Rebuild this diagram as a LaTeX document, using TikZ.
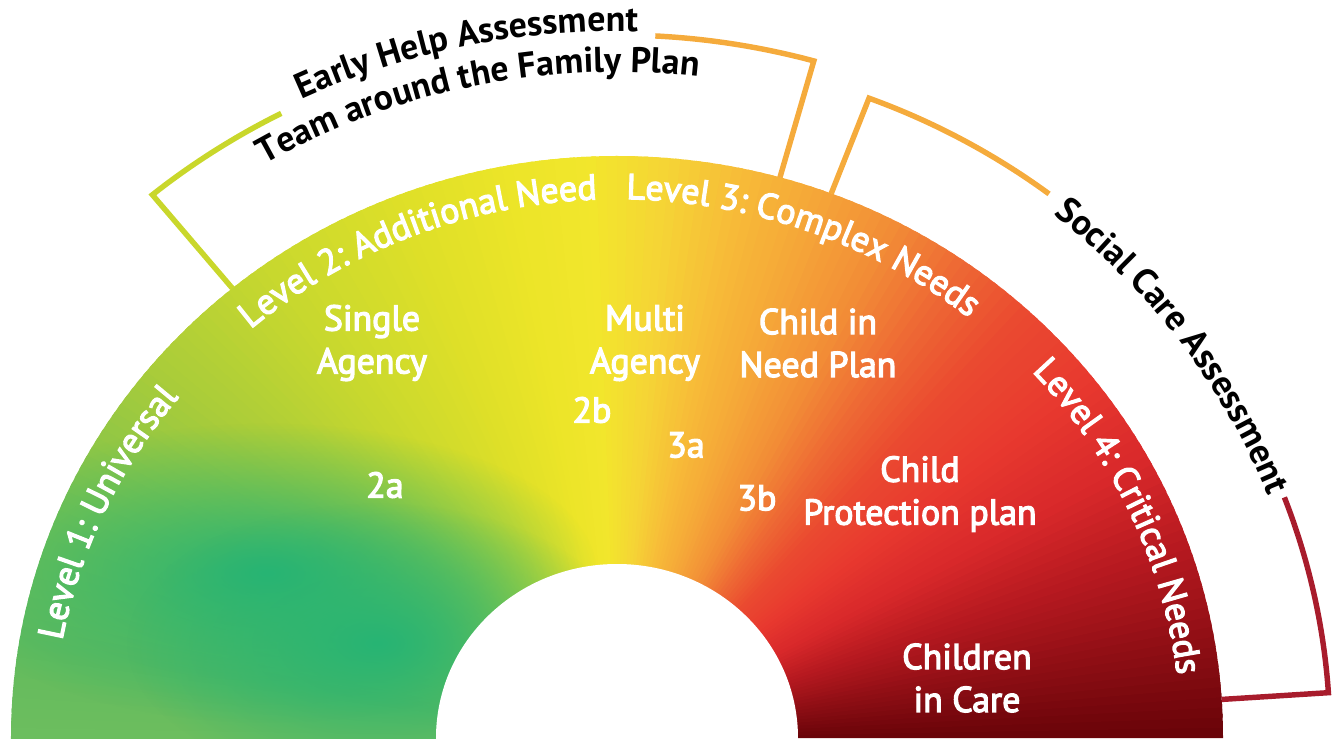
\documentclass[tikz,border=0pt]{standalone}
\usepackage{fontspec}
\setmainfont{PT Sans}
\usetikzlibrary{decorations.text,fadings}

% colour stops round the half ring, from the right (0) to the left (180)
\definecolor{st0}{HTML}{6A0409}
\definecolor{st1}{HTML}{8A0D13}
\definecolor{st2}{HTML}{B3181F}
\definecolor{st3}{HTML}{D8282A}
\definecolor{st4}{HTML}{E8392F}
\definecolor{st5}{HTML}{EA4A30}
\definecolor{st6}{HTML}{EE6A34}
\definecolor{st7}{HTML}{F28C36}
\definecolor{st8}{HTML}{F5A638}
\definecolor{st9}{HTML}{F7BD38}
\definecolor{st10}{HTML}{F5D535}
\definecolor{st11}{HTML}{F2E62C}
\definecolor{st12}{HTML}{ECE528}
\definecolor{st13}{HTML}{DFE028}
\definecolor{st14}{HTML}{C8D82E}
\definecolor{st15}{HTML}{A9CC3A}
\definecolor{st16}{HTML}{7FC34D}
\definecolor{st17}{HTML}{62BB5C}
\definecolor{st18}{HTML}{6DBE5F}
\definecolor{blobgreen}{HTML}{27B474}
\definecolor{ehgreen}{HTML}{C9D72B}
\definecolor{amber}{HTML}{F5AB3C}
\definecolor{crimson}{HTML}{A81C2C}

\tikzfading[name=blobfade, inner color=transparent!0, outer color=transparent!100]

% white labels are set a little heavier: fill and stroke the glyphs
\newcommand\thicken{\special{pdf:literal direct 2 Tr 0.35 w}}
\newcommand\lvlfont{\fontsize{10.2}{12.2}\selectfont\thicken}
\newcommand\outfont{\fontsize{10.2}{12.2}\selectfont\bfseries}

\begin{document}
\begin{tikzpicture}[x=0.1mm, y=0.1mm,
  lvl/.style={font=\lvlfont, text=white, align=center, inner sep=0pt},
  bracket/.style={line width=1.55pt},
]
\useasboundingbox (-617,0) rectangle (721,738);

% the coloured half ring
\begin{scope}
\clip (0,0) ellipse (606 and 582);
\foreach \a/\b/\ca/\cb in {0/8/st0/st1, 8/18/st1/st2, 18/28/st2/st3, 28/38/st3/st4,
    38/47/st4/st5, 47/55/st5/st6, 55/62/st6/st7, 62/70/st7/st8, 70/78/st8/st9,
    78/85/st9/st10, 85/92/st10/st11, 92/100/st11/st12, 100/110/st12/st13,
    110/125/st13/st14, 125/140/st14/st15, 140/155/st15/st16, 155/170/st16/st17,
    170/180/st17/st18}{
  \pgfmathtruncatemacro\e{\b-1}
  \foreach \t in {\a,...,\e}{
    \pgfmathsetmacro\p{100*(\t-\a)/(\b-\a)}
    \fill[\cb!\p!\ca] (0,0) -- ({\t}:620 and 596) -- ({\t+1.5}:620 and 596) -- cycle;
  }
}
\fill[blobgreen, path fading=blobfade] (-350,165) ellipse (330 and 150);
\fill[blobgreen, path fading=blobfade] (-240,95) ellipse (250 and 140);
\end{scope}
\fill[white] (0,0) ellipse (181 and 174);

% level names round the rim
\path[decorate, decoration={text along path, text align=center,
  text={|\lvlfont\color{white}|Level 1: Universal}}]
  (187:564 and 541) arc[start angle=187, end angle=124, x radius=564, y radius=541];
\path[decorate, decoration={text along path, text align=center,
  text={|\lvlfont\color{white}|Level 2: Additional Need}}]
  (143:562 and 539) arc[start angle=143, end angle=80, x radius=562, y radius=539];
\path[decorate, decoration={text along path, text align=center,
  text={|\lvlfont\color{white}|Level 3: Complex Needs}}]
  (102:562 and 539) arc[start angle=102, end angle=38, x radius=562, y radius=539];
\path[decorate, decoration={text along path, text align=center,
  text={|\lvlfont\color{white}|Level 4: Critical Needs}}]
  (56:564 and 541) arc[start angle=56, end angle=-7, x radius=564, y radius=541];

% labels inside the ring
\node[lvl] (single) at (-245,395) {Single\\Agency};
\node[lvl] (multi) at (28,395) {Multi\\Agency};
\node[lvl] (cin) at (201,395) {Child in\\Need Plan};
\node[lvl] (l2a) at (-232,253) {2a};
\node[lvl] (l2b) at (-25,328) {2b};
\node[lvl] (l3a) at (69,293) {3a};
\node[lvl] (l3b) at (140,240) {3b};
\node[lvl] (cpp) at (303,244) {Child\\Protection plan};
\node[lvl] (cic) at (350,60) {Children\\in Care};

% assessment brackets
\coordinate (ehA) at (129.4:606 and 582);
\coordinate (ehB) at (129.4:732 and 703);
\coordinate (ehC) at (87:732 and 703);
\coordinate (ehD) at (74.4:606 and 582);
\draw[bracket, ehgreen] (ehA) -- (ehB) arc[start angle=129.4, end angle=117.3, x radius=732, y radius=703];
\draw[bracket, amber] (ehC) arc[start angle=87, end angle=74.4, x radius=732, y radius=703] -- (ehD);

\coordinate (scA) at (69.3:606 and 582);
\coordinate (scB) at (69.3:713 and 684);
\coordinate (scC) at (20.6:713 and 684);
\coordinate (scD) at (3.8:606 and 582);
\draw[bracket, amber] (scA) -- (scB) arc[start angle=69.3, end angle=52.7, x radius=713, y radius=684];
\draw[bracket, crimson] (scC) arc[start angle=20.6, end angle=3.8, x radius=713, y radius=684] -- (scD);

% bracket titles
\path[decorate, decoration={text along path, text align=center,
  text={|\outfont|Early Help Assessment}}]
  (136:736 and 707) arc[start angle=136, end angle=68, x radius=736, y radius=707];
\path[decorate, decoration={text along path, text align=center,
  text={|\outfont|Team around the Family Plan}}]
  (136:694 and 666) arc[start angle=136, end angle=68, x radius=694, y radius=666];
\path[decorate, decoration={text along path, text align=center,
  text={|\outfont|Social Care Assessment}}]
  (69:698 and 670) arc[start angle=69, end angle=3, x radius=698, y radius=670];
\end{tikzpicture}
\end{document}
